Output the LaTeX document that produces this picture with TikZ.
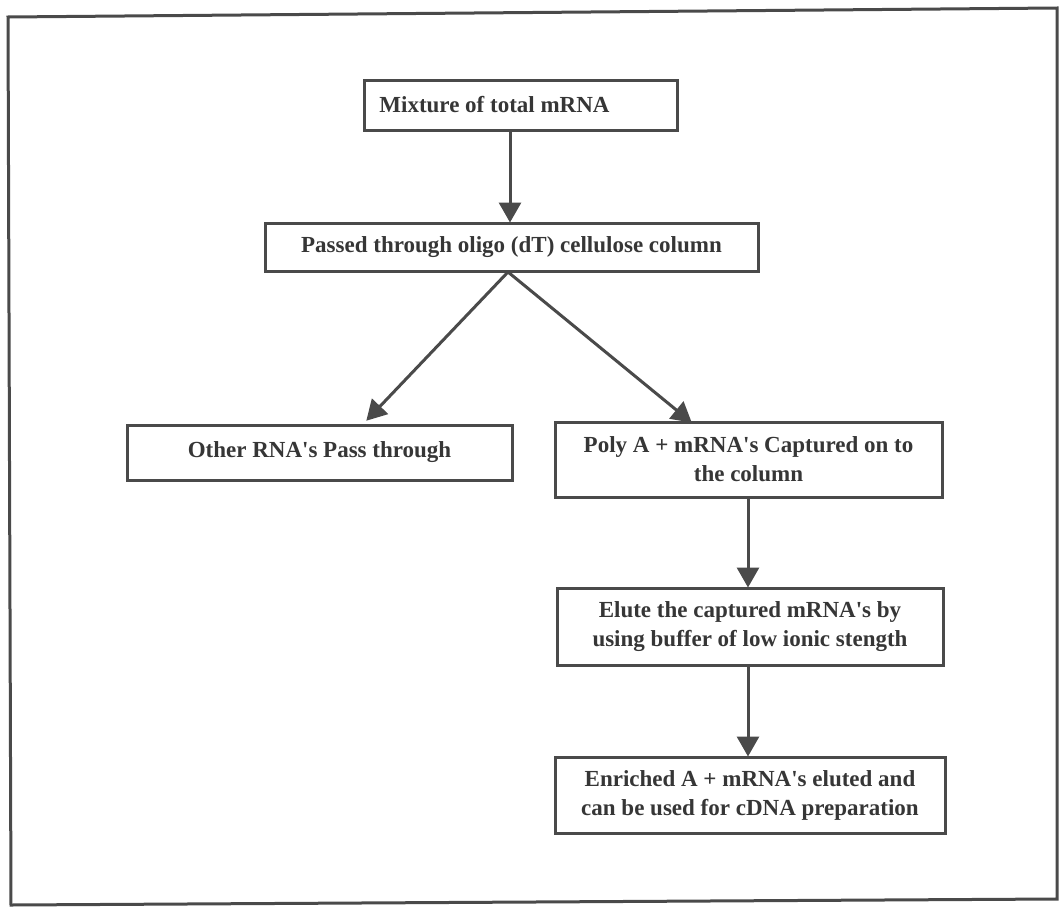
\documentclass[tikz,border=0pt]{standalone}
\usepackage{fontspec}
\setmainfont{Liberation Serif}
\usetikzlibrary{arrows.meta}
\definecolor{ink}{HTML}{4A4A4A}
\definecolor{txt}{HTML}{363636}
\newcommand{\apos}{\textquotesingle}
\begin{document}
\begin{tikzpicture}[x=1pt,y=-1pt,
  stepbox/.style={draw=ink, line width=3pt, fill=white, align=center,
    text=txt, font=\bfseries\fontsize{23}{29}\selectfont, inner sep=0pt},
  flow/.style={draw=ink, line width=3pt,
    -{Triangle[width=22pt,length=20pt]}, shorten >=-1pt}]
\useasboundingbox (0,0) rectangle (1060,910);
\fill[white] (0,0) rectangle (1060,910);
% outer frame
\draw[ink, line width=3pt] (8,17) -- (1057,8) -- (1057,899) -- (11,905) -- cycle;
% steps
\node[stepbox, minimum width=313pt, minimum height=50pt] (mix) at (520.5,105) {Mixture of total mRNA\hspace*{52pt}};
\node[stepbox, minimum width=493pt, minimum height=48pt] (pass) at (511.5,247) {Passed through oligo (dT) cellulose column};
\node[stepbox, minimum width=385pt, minimum height=55pt] (other) at (319.5,452.5) {Other RNA\apos s Pass through};
\node[stepbox, minimum width=387pt, minimum height=75pt] (poly) at (748.5,459.5) {Poly A + mRNA\apos s Captured on to\\the column};
\node[stepbox, minimum width=386pt, minimum height=77pt] (elute) at (750,626.5) {Elute the captured mRNA\apos s by\\using buffer of low ionic stength};
\node[stepbox, minimum width=390pt, minimum height=76pt] (enr) at (750,795) {Enriched A + mRNA\apos s eluted and\\can be used for cDNA preparation};
% connectors
\coordinate (split) at (508,272);
\draw[flow] (510,130) -- (pass.north -| 510,0);
\draw[flow] (split) -- (367,420);
\draw[flow] (split) -- (691,422);
\draw[flow] (poly.south -| 748,0) -- (elute.north -| 748,0);
\draw[flow] (elute.south -| 748,0) -- (enr.north -| 748,0);
\end{tikzpicture}
\end{document}
